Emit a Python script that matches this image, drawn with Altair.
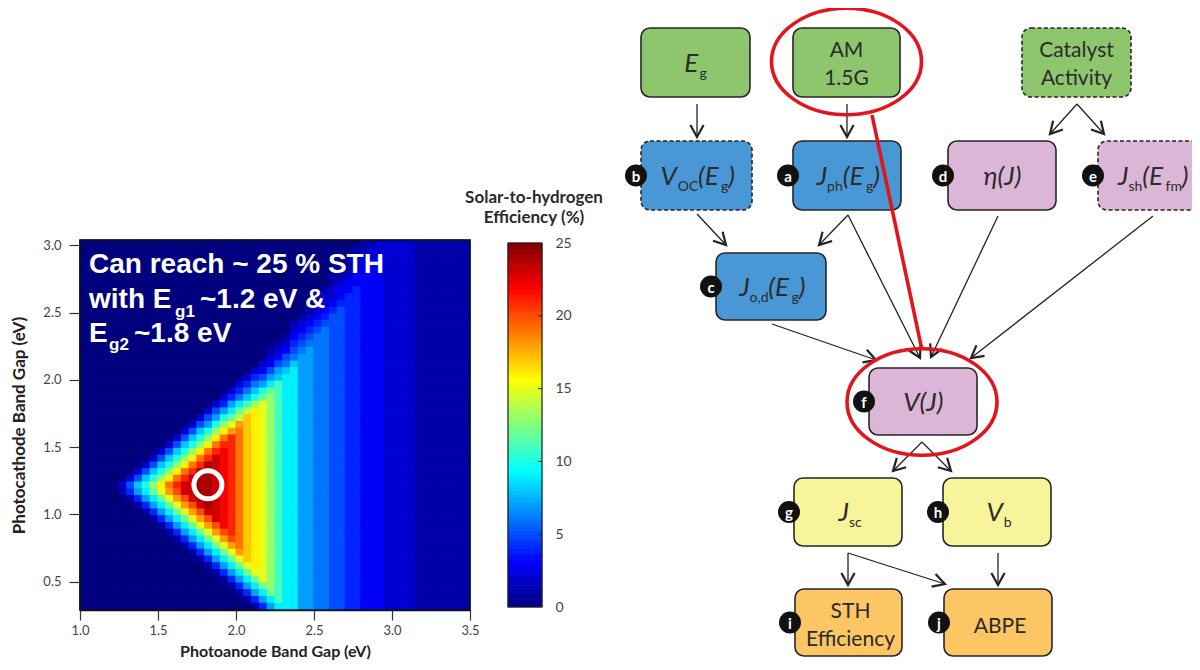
import math
import altair as alt
import pandas as pd

alt.data_transformers.disable_max_rows()

# ======================= heat-map data =======================
anode_ticks = [1.0, 1.5, 2.0, 2.5, 3.0, 3.5]
cathode_ticks = [0.5, 1.0, 1.5, 2.0, 2.5, 3.0]
sth_ticks = [0, 5, 10, 15, 20, 25]

anode_first_edge = 1.0      # eV, left edge of first column
cathode_first_edge = 0.29   # eV, bottom edge of lowest row
cell_step = 0.05            # eV

# STH efficiency per cell, top row first; code 0-9 -> 0-9 %, a-p -> 10-25 %
sth_rows = [
    "0000000000 0000000000 0000000000 0000001122 2221111111",
    "0000000000 0000000000 0000000000 0000011222 2221111111",
    "0000000000 0000000000 0000000000 0000112232 2221111111",
    "0000000000 0000000000 0000000000 0000122332 2221111111",
    "0000000000 0000000000 0000000000 0001123332 2221111111",
    "0000000000 0000000000 0000000000 0011233332 2221111111",
    "0000000000 0000000000 0000000000 0012333332 2221111111",
    "0000000000 0000000000 0000000000 0123343332 2221111111",
    "0000000000 0000000000 0000000000 1223443332 2221111111",
    "0000000000 0000000000 0000000000 1234443332 2221111111",
    "0000000000 0000000000 0000000001 2345443332 2221111111",
    "0000000000 0000000000 0000000012 3455443332 2221111111",
    "0000000000 0000000000 0000000123 4555443332 2221111111",
    "0000000000 0000000000 0000000234 5655443332 2221111111",
    "0000000000 0000000000 0000001345 6655443332 2221111111",
    "0000000000 0000000000 0000012456 6655443332 2221111111",
    "0000000000 0000000000 0000123567 6655443332 2221111111",
    "0000000000 0000000000 0000235677 6655443332 2221111111",
    "0000000000 0000000000 0002356877 6655443332 2221111111",
    "0000000000 0000000000 0023578977 6655443332 2221111111",
    "0000000000 0000000000 0245789977 6655443332 2221111111",
    "0000000000 0000000000 24679b9977 6655443332 2221111111",
    "0000000000 0000000002 468acb9977 6655443332 2221111111",
    "0000000000 0000000024 68acdb9977 6655443332 2221111111",
    "0000000000 0000000247 9bdfdb9977 6655443332 2221111111",
    "0000000000 0000002579 cegfdb9977 6655443332 2221111111",
    "0000000000 00000257ac ehgfdb9977 6655443332 2221111111",
    "0000000000 0000257adf ihgfdb9977 6655443332 2221111111",
    "0000000000 000258adgi jhgfdb9977 6655443332 2221111111",
    "0000000000 00258adgjl jhgfdb9977 6655443332 2221111111",
    "0000000000 0258adgjll jhgfdb9977 6655443332 2221111111",
    "0000000000 258adgjlml jhgfdb9977 6655443332 2221111111",
    "0000000002 58adgjlnml jhgfdb9977 6655443332 2221111111",
    "0000000025 8adgjlonml jhgfdb9977 6655443332 2221111111",
    "0000000258 adgjloonml jhgfdb9977 6655443332 2221111111",
    "000000258a dgjlnoonml jhgfdb9977 6655443332 2221111111",
    "00000258ad gjlnnoonml jhgfdb9977 6655443332 2221111111",
    "000001479c fiknnoonml jhgfdb9977 6655443332 2221111111",
    "0000001479 cfiknoonml jhgfdb9977 6655443332 2221111111",
    "0000000147 9cfiknonml jhgfdb9977 6655443332 2221111111",
    "0000000014 79cfiknnml jhgfdb9977 6655443332 2221111111",
    "0000000001 479cfiknml jhgfdb9977 6655443332 2221111111",
    "0000000000 1479cfikml jhgfdb9977 6655443332 2221111111",
    "0000000000 01479cfikl jhgfdb9977 6655443332 2221111111",
    "0000000000 001479cfik jhgfdb9977 6655443332 2221111111",
    "0000000000 0001479cfi jhgfdb9977 6655443332 2221111111",
    "0000000000 00001479cf ihgfdb9977 6655443332 2221111111",
    "0000000000 000001479c fhgfdb9977 6655443332 2221111111",
    "0000000000 0000001479 cfgfdb9977 6655443332 2221111111",
    "0000000000 0000000147 9cffdb9977 6655443332 2221111111",
    "0000000000 0000000014 79cfdb9977 6655443332 2221111111",
    "0000000000 0000000001 479cdb9977 6655443332 2221111111",
    "0000000000 0000000000 1479cb9977 6655443332 2221111111",
    "0000000000 0000000000 01479b9977 6655443332 2221111111",
    "0000000000 0000000000 0014799977 6655443332 2221111111",
]
best_gap = {"anode": 1.82, "cathode": 1.22}

# ======================= flow-chart content =======================
node_names = ["Eg", "AM", "Cat", "Voc", "Jph", "eta", "Jsh", "Jod", "VJ", "Jsc", "Vb", "STH", "ABPE"]
node_kind = ["input", "input", "input", "light", "light", "load", "load", "light", "load",
             "output", "output", "metric", "metric"]
node_dashed = [False, False, True, True, False, False, True, False, False, False, False, False, False]
node_badge = ["", "", "", "b", "a", "d", "e", "c", "f", "g", "h", "i", "j"]
node_math = {
    "Eg": [("E", "m"), ("g", "s")],
    "Voc": [("V", "m"), ("OC", "s"), ("(E", "m"), ("g", "s"), (")", "m")],
    "Jph": [("J", "m"), ("ph", "s"), ("(E", "m"), ("g", "s"), (")", "m")],
    "eta": [("η(J)", "m")],
    "Jsh": [("J", "m"), ("sh", "s"), ("(E", "m"), ("fm", "s"), (")", "m")],
    "Jod": [("J", "m"), ("o,d", "s"), ("(E", "m"), ("g", "s"), (")", "m")],
    "VJ": [("V(J)", "m")],
    "Jsc": [("J", "m"), ("sc", "s")],
    "Vb": [("V", "m"), ("b", "s")],
}
node_plain = {"AM": ["AM", "1.5G"], "Cat": ["Catalyst", "Activity"],
              "STH": ["STH", "Efficiency"], "ABPE": ["ABPE"]}
edges = [("Eg", "Voc"), ("AM", "Jph"), ("Cat", "eta"), ("Cat", "Jsh"), ("Voc", "Jod"),
         ("Jph", "Jod"), ("Jph", "VJ"), ("eta", "VJ"), ("Jsh", "VJ"), ("Jod", "VJ"),
         ("VJ", "Jsc"), ("VJ", "Vb"), ("Jsc", "STH"), ("Jsc", "ABPE"), ("Vb", "ABPE")]
highlighted = ["AM", "VJ"]
note_lines = [["Can reach ~ 25 % STH"], ["with E", "g1", "~1.2 eV &"], ["E", "g2", "~1.8 eV"]]
cbar_title = ["Solar-to-hydrogen", "Efficiency  (%)"]

# ======================= layout (page pixels) =======================
W, H = 1184, 652
OX, OY = 8, 8
FONT = "Lato"
box_xy = {
    "Eg": (641, 750, 28, 97), "AM": (793, 900, 28, 97), "Cat": (1022, 1131, 28, 97),
    "Voc": (641, 752, 141, 210), "Jph": (793, 901, 141, 210), "eta": (948, 1056, 141, 210),
    "Jsh": (1098, 1206, 141, 210), "Jod": (716, 826, 253, 320), "VJ": (869, 977, 368, 435),
    "Jsc": (794, 902, 478, 546), "Vb": (943, 1051, 478, 546),
    "STH": (795, 902, 589, 656), "ABPE": (944, 1052, 589, 656),
}
edge_xy = {
    ("Eg", "Voc"): (697, 104, 697, 137), ("AM", "Jph"): (847, 104, 847, 137),
    ("Cat", "eta"): (1077, 104, 1050, 134), ("Cat", "Jsh"): (1077, 104, 1104, 134),
    ("Voc", "Jod"): (697, 214, 726, 245), ("Jph", "Jod"): (848, 215, 819, 245),
    ("Jph", "VJ"): (848, 215, 920, 358), ("eta", "VJ"): (998, 216, 931, 357),
    ("Jsh", "VJ"): (1153, 216, 971, 358), ("Jod", "VJ"): (772, 324, 876, 360),
    ("VJ", "Jsc"): (922, 442, 893, 471), ("VJ", "Vb"): (922, 442, 951, 471),
    ("Jsc", "STH"): (848, 553, 848, 585), ("Jsc", "ABPE"): (848, 553, 945, 584),
    ("Vb", "ABPE"): (998, 553, 998, 585),
}
note_xy = [[(89, 273, 28)], [(89, 308, 28), (175, 317, 17), (200, 308, 28)],
           [(89, 342, 28), (109, 350, 17), (134, 342, 28)]]
kind_colors = {"input": "#8dc66c", "light": "#4a97d6", "load": "#dbb6d7",
               "output": "#f8f49b", "metric": "#fcc664"}

# ======================= build tables =======================
cells = []
n_rows = len(sth_rows)
for r, row in enumerate(sth_rows):
    codes = row.replace(" ", "")
    assert len(codes) == 50, (r, len(codes))
    j = n_rows - 1 - r
    c0 = round(cathode_first_edge + cell_step * j, 3)
    for i, ch in enumerate(codes):
        a0 = round(anode_first_edge + cell_step * i, 3)
        cells.append({"a0": a0, "a1": round(a0 + cell_step, 3), "c0": c0,
                      "c1": round(c0 + cell_step, 3), "sth": int(ch, 36)})
heat_df = pd.DataFrame(cells)
a_lo, a_hi = anode_first_edge, anode_first_edge + cell_step * 50
c_lo, c_hi = cathode_first_edge, round(cathode_first_edge + cell_step * n_rows, 3)


def fx():
    return alt.Scale(domain=[OX, OX + W], range=[0, W], nice=False, zero=False)


def fy():
    return alt.Scale(domain=[OY, OY + H], range=[0, H], nice=False, zero=False)


hx = alt.Scale(domain=[a_lo, a_hi], range=[80 - OX, 470 - OX], nice=False, zero=False)
hy = alt.Scale(domain=[c_lo, c_hi], range=[610 - OY, 240 - OY], nice=False, zero=False)
cby = alt.Scale(domain=[0, 25], range=[607 - OY, 243 - OY], nice=False, zero=False)
jet = alt.Scale(domain=[0, 3.125, 9.375, 15.625, 21.875, 25],
                range=["#00007f", "#0000ff", "#00ffff", "#ffff00", "#ff0000", "#7f0000"],
                interpolate="rgb")

layers = []

# ---- heat map
heat = alt.Chart(heat_df).mark_rect(strokeWidth=1.2, strokeOpacity=1).encode(
    x=alt.X("a0:Q", scale=hx, axis=alt.Axis(
        values=anode_ticks, format=".1f", orient="bottom", offset=-(H - (610 - OY)), grid=False,
        domainColor="#111", domainWidth=1.5, tickColor="#333", tickSize=10, tickWidth=1.2,
        labelFont=FONT, labelFontSize=13, labelColor="#444", labelPadding=4, labelFlush=False,
        title="Photoanode Band Gap (eV)", titleFont=FONT, titleFontSize=16, titleFontWeight="bold",
        titleColor="#222", titleBaseline="alphabetic", titleY=46)),
    x2="a1:Q",
    y=alt.Y("c0:Q", scale=hy, axis=alt.Axis(
        values=cathode_ticks, format=".1f", orient="left", offset=-(80 - OX), grid=False,
        domainColor="#111", domainWidth=1.5, tickColor="#333", tickSize=11, tickWidth=1.2,
        labelFont=FONT, labelFontSize=13, labelColor="#444", labelPadding=8, labelFlush=False,
        title="Photocathode Band Gap (eV)", titleFont=FONT, titleFontSize=17,
        titleFontWeight="bold", titleColor="#222", titleBaseline="alphabetic",
        titleAngle=270, titleX=-56)),
    y2="c1:Q",
    color=alt.Color("sth:Q", scale=jet, legend=None),
    stroke=alt.Stroke("sth:Q", scale=jet, legend=None),
)
layers.append(heat)

frame_df = pd.DataFrame([{"a0": a_lo, "a1": a_hi, "c0": c_lo, "c1": c_hi}])
layers.append(alt.Chart(frame_df).mark_rect(fillOpacity=0, stroke="#111", strokeWidth=1.5).encode(
    x=alt.X("a0:Q", scale=hx, axis=None), x2="a1:Q",
    y=alt.Y("c0:Q", scale=hy, axis=None), y2="c1:Q"))

layers.append(alt.Chart(pd.DataFrame([best_gap])).mark_point(
    shape="circle", size=784, filled=False, stroke="white", strokeWidth=5, opacity=1).encode(
    x=alt.X("anode:Q", scale=hx, axis=None), y=alt.Y("cathode:Q", scale=hy, axis=None)))

# ---- annotation text
note_big, note_small = [], []
for line, pos in zip(note_lines, note_xy):
    for t, (px, py, fs) in zip(line, pos):
        (note_big if fs > 20 else note_small).append({"x": px, "y": py, "t": t})


def text_layer(rows, **mark):
    return alt.Chart(pd.DataFrame(rows)).mark_text(**mark).encode(
        x=alt.X("x:Q", scale=fx(), axis=None), y=alt.Y("y:Q", scale=fy(), axis=None), text="t:N")


layers.append(text_layer(note_big, align="left", baseline="alphabetic", font="Liberation Sans",
                         fontWeight="bold", fontSize=28, color="white"))
layers.append(text_layer(note_small, align="left", baseline="alphabetic", font="Liberation Sans",
                         fontWeight="bold", fontSize=17, color="white"))

# ---- colour bar
cb_vals = [round(0.25 * k, 2) for k in range(100)]
cb_df = pd.DataFrame({"v0": cb_vals, "v1": [v + 0.25 for v in cb_vals],
                      "vm": [v + 0.125 for v in cb_vals], "bx0": 508, "bx1": 542})
layers.append(alt.Chart(cb_df).mark_rect(strokeWidth=0.8).encode(
    x=alt.X("bx0:Q", scale=fx(), axis=None), x2="bx1:Q",
    y=alt.Y("v0:Q", scale=cby, axis=alt.Axis(
        values=sth_ticks, orient="right", offset=-(W - (542 - OX)), grid=False, domain=False,
        ticks=False, tickSize=0, labelPadding=13, labelFont=FONT, labelFontSize=14,
        labelColor="#444", labelFlush=False, title=None)),
    y2="v1:Q",
    color=alt.Color("vm:Q", scale=jet, legend=None),
    stroke=alt.Stroke("vm:Q", scale=jet, legend=None)))
layers.append(alt.Chart(pd.DataFrame([{"bx0": 508, "bx1": 542, "v0": 0, "v1": 25}])).mark_rect(
    fillOpacity=0, stroke="#222", strokeWidth=1.2).encode(
    x=alt.X("bx0:Q", scale=fx(), axis=None), x2="bx1:Q",
    y=alt.Y("v0:Q", scale=cby, axis=None), y2="v1:Q"))
layers.append(alt.Chart(pd.DataFrame({"v": sth_ticks[1:-1], "bx0": 538, "bx1": 542})).mark_rule(
    stroke="#222", strokeWidth=1).encode(
    x=alt.X("bx0:Q", scale=fx(), axis=None), x2="bx1:Q", y=alt.Y("v:Q", scale=cby, axis=None)))
layers.append(text_layer([{"x": 534, "y": 203, "t": cbar_title[0]},
                          {"x": 534, "y": 223, "t": cbar_title[1]}],
                         align="center", baseline="alphabetic", font=FONT, fontWeight="bold",
                         fontSize=17, color="#2a2a2a"))

# ---- flow chart boxes
box_rows = []
for n, k, d, b in zip(node_names, node_kind, node_dashed, node_badge):
    x0, x1, y0, y1 = box_xy[n]
    box_rows.append({"x0": x0, "x1": x1, "y0": y0, "y1": y1, "kind": k, "dashed": d, "badge": b,
                     "bx": x0 - 5, "by": (y0 + y1) / 2})
box_df = pd.DataFrame(box_rows)
kind_scale = alt.Scale(domain=list(kind_colors.keys()), range=list(kind_colors.values()))


def box_layer(df, **mark):
    return alt.Chart(df).mark_rect(cornerRadius=9, stroke="#262626", strokeWidth=1.6, **mark).encode(
        x=alt.X("x0:Q", scale=fx(), axis=None), x2="x1:Q",
        y=alt.Y("y0:Q", scale=fy(), axis=None), y2="y1:Q",
        color=alt.Color("kind:N", scale=kind_scale, legend=None))


layers.append(box_layer(box_df[~box_df["dashed"]]))
layers.append(box_layer(box_df[box_df["dashed"]], strokeDash=[4, 2.5]))

# ---- arrows
arrow_rows = []
for e in edges:
    x0, y0, x1, y1 = edge_xy[e]
    ang = math.degrees(math.atan2(-(x1 - x0), (y1 - y0))) % 360
    arrow_rows.append({"x0": x0, "y0": y0, "x1": x1, "y1": y1, "ang": ang})
arrow_df = pd.DataFrame(arrow_rows)
layers.append(alt.Chart(arrow_df).mark_rule(stroke="#222", strokeWidth=1.3).encode(
    x=alt.X("x0:Q", scale=fx(), axis=None), y=alt.Y("y0:Q", scale=fy(), axis=None),
    x2="x1:Q", y2="y1:Q"))
layers.append(alt.Chart(arrow_df).mark_point(
    shape="M-0.55,-1L0,0L0.55,-1", size=576, filled=False, stroke="#222", strokeWidth=2.2,
    opacity=1, strokeJoin="miter").encode(
    x=alt.X("x1:Q", scale=fx(), axis=None), y=alt.Y("y1:Q", scale=fy(), axis=None),
    angle=alt.Angle("ang:Q", scale=alt.Scale(domain=[0, 360], range=[0, 360]))))

# ---- badges
badge_df = box_df[box_df["badge"] != ""]
layers.append(alt.Chart(badge_df).mark_point(shape="circle", size=484, filled=True, color="#111",
                                             opacity=1).encode(
    x=alt.X("bx:Q", scale=fx(), axis=None), y=alt.Y("by:Q", scale=fy(), axis=None)))
layers.append(alt.Chart(badge_df).mark_text(align="center", baseline="middle", font=FONT,
                                            fontWeight="bold", fontSize=15, color="white",
                                            dy=1).encode(
    x=alt.X("bx:Q", scale=fx(), axis=None), y=alt.Y("by:Q", scale=fy(), axis=None),
    text="badge:N"))

# ---- box labels
MATH, SUB, PLAIN = 26, 14, 21
CW = {"E": 0.58, "V": 0.66, "J": 0.40, "(": 0.31, ")": 0.31, "η": 0.56, "g": 0.52, "p": 0.56,
      "h": 0.56, "O": 0.78, "C": 0.66, "s": 0.43, "f": 0.33, "m": 0.84, "o": 0.56, ",": 0.22,
      "d": 0.56, "c": 0.46, "b": 0.56}


def tw(s, size):
    return sum(CW.get(c, 0.55) for c in s) * size


math_rows, sub_rows, plain_rows = [], [], []
for n, b in zip(node_names, node_badge):
    x0, x1, y0, y1 = box_xy[n]
    cx = (x0 + x1) / 2 + (2 if b else 0)
    cy = (y0 + y1) / 2
    if n in node_math:
        segs = node_math[n]
        total = sum(tw(t, MATH if k == "m" else SUB) for t, k in segs)
        cur = cx - total / 2
        for t, k in segs:
            if k == "m":
                math_rows.append({"x": cur, "y": cy + 9, "t": t})
                cur += tw(t, MATH)
            else:
                sub_rows.append({"x": cur, "y": cy + 15, "t": t})
                cur += tw(t, SUB)
    else:
        lines = node_plain[n]
        offs = [29, 57] if len(lines) == 2 else [44]
        for t, o in zip(lines, offs):
            plain_rows.append({"x": cx, "y": y0 + o, "t": t})

layers.append(text_layer(math_rows, align="left", baseline="alphabetic", font=FONT,
                         fontStyle="italic", fontSize=MATH, color="#2b2b2b"))
layers.append(text_layer(sub_rows, align="left", baseline="alphabetic", font=FONT,
                         fontSize=SUB, color="#2b2b2b"))
layers.append(text_layer(plain_rows, align="center", baseline="alphabetic", font=FONT,
                         fontSize=PLAIN, color="#2b2b2b"))

# ---- red highlight
hl_df = pd.DataFrame([{"x": (box_xy[n][0] + box_xy[n][1]) / 2 + (0 if n == "AM" else -1),
                       "y": (box_xy[n][2] + box_xy[n][3]) / 2 - (1 if n == "AM" else -0.5)}
                      for n in highlighted])
ellipse = ("M-1,0C-1,-0.392,-0.552,-0.71,0,-0.71C0.552,-0.71,1,-0.392,1,0"
           "C1,0.392,0.552,0.71,0,0.71C-0.552,0.71,-1,0.392,-1,0Z")
layers.append(alt.Chart(hl_df).mark_point(shape=ellipse, size=22500, filled=False,
                                          stroke="#e3141c", strokeWidth=3.6, opacity=1).encode(
    x=alt.X("x:Q", scale=fx(), axis=None), y=alt.Y("y:Q", scale=fy(), axis=None)))
link_df = pd.DataFrame([{"x0": 872, "y0": 115, "x1": 922, "y1": 350}])
layers.append(alt.Chart(link_df).mark_rule(stroke="#e3141c", strokeWidth=3.6).encode(
    x=alt.X("x0:Q", scale=fx(), axis=None), y=alt.Y("y0:Q", scale=fy(), axis=None),
    x2="x1:Q", y2="y1:Q"))

chart = alt.layer(*layers).resolve_scale(
    x="independent", y="independent", color="independent", stroke="independent",
    angle="independent"
).properties(
    width=W, height=H, padding=0, autosize=alt.AutoSizeParams(type="none"),
    background="white"
).configure_view(strokeWidth=0)

chart.save("out.html", embed_options={"renderer": "svg", "actions": False})
